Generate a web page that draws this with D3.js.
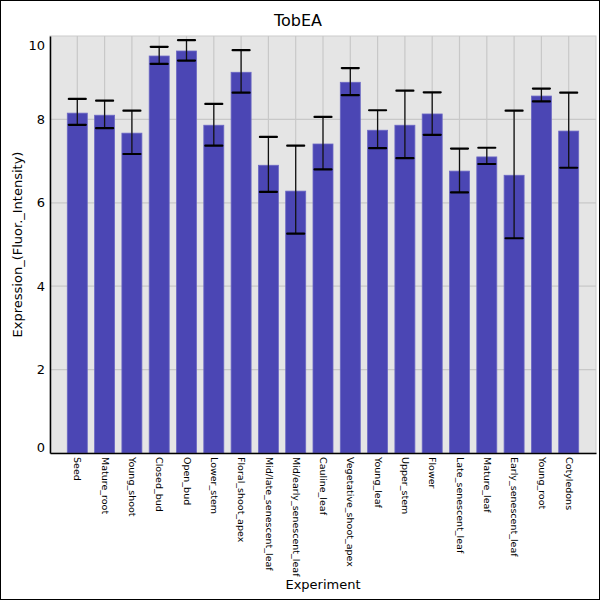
<!DOCTYPE html>
<html>

<head>
  <title>TobEA</title>
  <script src="https://cdn.jsdelivr.net/npm/d3@7"></script>
  <style>
    body { margin: 0; background: #fff; }
    text { font-family: "DejaVu Sans", sans-serif; }
  </style>
</head>

<body>
  <svg width="600" height="600" id="mainsvg"></svg>
  <script>
    // data
    const experiments = ['Seed', 'Mature_root', 'Young_shoot', 'Closed_bud', 'Open_bud', 'Lower_stem',
      'Floral_shoot_apex', 'Mid/late_senescent_leaf', 'Mid/early_senescent_leaf', 'Cauline_leaf',
      'Vegetative_shoot_apex', 'Young_leaf', 'Upper_stem', 'Flower', 'Late_senescent_leaf',
      'Mature_leaf', 'Early_senescent_leaf', 'Young_root', 'Cotyledons'];
    const expression = [8.15, 8.10, 7.67, 9.52, 9.64, 7.86, 9.13, 6.90, 6.28, 7.41,
      8.89, 7.74, 7.86, 8.13, 6.76, 7.10, 6.66, 8.56, 7.72];
    const errUpper = [8.49, 8.45, 8.21, 9.74, 9.90, 8.37, 9.66, 7.58, 7.37, 8.06,
      9.23, 8.22, 8.69, 8.65, 7.30, 7.32, 8.21, 8.74, 8.64];
    const errLower = [7.87, 7.79, 7.17, 9.33, 9.41, 7.37, 8.64, 6.26, 5.26, 6.80,
      8.58, 7.31, 7.07, 7.63, 6.25, 6.93, 5.15, 8.43, 6.84];
    const yTicks = [0, 2, 4, 6, 8, 10];

    const svg = d3.select('#mainsvg');
    const width = +svg.attr('width');
    const height = +svg.attr('height');
    const margin = { top: 36, right: 4, bottom: 147, left: 50 };
    const innerWidth = width - margin.left - margin.right;
    const innerHeight = height - margin.top - margin.bottom;

    // frame round the whole picture
    svg.append('rect')
      .attr('x', 0.5).attr('y', 0.5)
      .attr('width', width - 1).attr('height', height - 1)
      .attr('fill', 'white').attr('stroke', 'black');

    const data = experiments.map((name, i) => ({
      name: name, value: expression[i], hi: errUpper[i], lo: errLower[i], idx: i + 1
    }));

    // bars sit on integer slots 1..19 of a 0..20 range
    const xScale = d3.scaleLinear()
      .domain([0, experiments.length + 1])
      .range([0, innerWidth]);
    const yScale = d3.scaleLinear()
      .domain([0, 10])
      .range([innerHeight, 0]);
    const barWidth = 20;
    const capWidth = 17;

    const g = svg.append('g')
      .attr('transform', `translate(${margin.left}, ${margin.top})`);

    g.append('rect')
      .attr('width', innerWidth)
      .attr('height', innerHeight)
      .attr('fill', '#e5e5e5')
      .attr('stroke', '#cccccc');

    // grid
    g.selectAll('.hgrid')
      .data(yTicks.filter(d => d > 0 && d < 10))
      .enter().append('line')
      .attr('class', 'hgrid')
      .attr('x1', 0).attr('x2', innerWidth)
      .attr('y1', d => yScale(d)).attr('y2', d => yScale(d))
      .attr('stroke', '#c8c8c8').attr('stroke-width', 1.2);
    g.selectAll('.vgrid')
      .data(data)
      .enter().append('line')
      .attr('class', 'vgrid')
      .attr('x1', d => xScale(d.idx)).attr('x2', d => xScale(d.idx))
      .attr('y1', 0).attr('y2', innerHeight)
      .attr('stroke', '#c8c8c8').attr('stroke-width', 1.2);

    // bars
    g.selectAll('.bar')
      .data(data)
      .enter().append('rect')
      .attr('class', 'bar')
      .attr('x', d => xScale(d.idx) - barWidth / 2)
      .attr('y', d => yScale(d.value))
      .attr('width', barWidth)
      .attr('height', d => innerHeight - yScale(d.value))
      .attr('fill', '#4b46b4')
      .attr('stroke', '#6c68c4')
      .attr('stroke-width', 0.8);

    // error bars
    const err = g.selectAll('.err')
      .data(data)
      .enter().append('g')
      .attr('class', 'err');
    err.append('line')
      .attr('x1', d => xScale(d.idx)).attr('x2', d => xScale(d.idx))
      .attr('y1', d => yScale(d.hi)).attr('y2', d => yScale(d.lo))
      .attr('stroke', '#111').attr('stroke-width', 1.3);
    err.selectAll('.cap')
      .data(d => [{ x: d.idx, v: d.hi }, { x: d.idx, v: d.lo }])
      .enter().append('line')
      .attr('class', 'cap')
      .attr('x1', d => xScale(d.x) - capWidth / 2).attr('x2', d => xScale(d.x) + capWidth / 2)
      .attr('y1', d => yScale(d.v)).attr('y2', d => yScale(d.v))
      .attr('stroke', '#000').attr('stroke-width', 2.2)
      .attr('stroke-linecap', 'round');

    // y axis (labels only, end ones pulled inside)
    const yAxis = d3.axisLeft(yScale).tickValues(yTicks).tickSize(0).tickPadding(5);
    const yAxisGroup = g.append('g').call(yAxis);
    yAxisGroup.select('.domain').attr('stroke', 'black').attr('stroke-width', 1.5);
    yAxisGroup.selectAll('text')
      .attr('font-size', 13)
      .attr('font-family', 'DejaVu Sans')
      .attr('fill', 'black')
      .attr('dy', d => d === 10 ? '1.05em' : d === 0 ? '-0.15em' : '0.32em');

    // x axis with rotated category labels
    const xAxis = d3.axisBottom(xScale)
      .tickValues(data.map(d => d.idx))
      .tickFormat(i => experiments[i - 1])
      .tickSize(0);
    const xAxisGroup = g.append('g')
      .attr('transform', `translate(0, ${innerHeight})`)
      .call(xAxis);
    xAxisGroup.select('.domain').attr('stroke', 'black').attr('stroke-width', 1.5);
    xAxisGroup.selectAll('text')
      .attr('font-size', 9.5)
      .attr('font-family', 'DejaVu Sans')
      .attr('fill', 'black')
      .attr('x', 0)
      .attr('y', 0)
      .attr('dy', '0.35em')
      .attr('text-anchor', 'start')
      .attr('transform', 'translate(0, 4) rotate(90)');

    // titles
    svg.append('text')
      .text('TobEA')
      .attr('x', 298).attr('y', 26)
      .attr('text-anchor', 'middle')
      .attr('font-size', 16);
    svg.append('text')
      .text('Experiment')
      .attr('x', margin.left + innerWidth / 2).attr('y', 589)
      .attr('text-anchor', 'middle')
      .attr('font-size', 13);
    svg.append('text')
      .text('Expression_(Fluor._Intensity)')
      .attr('transform', `translate(22, ${margin.top + innerHeight / 2}) rotate(-90)`)
      .attr('text-anchor', 'middle')
      .attr('font-size', 13);
  </script>
</body>

</html>
